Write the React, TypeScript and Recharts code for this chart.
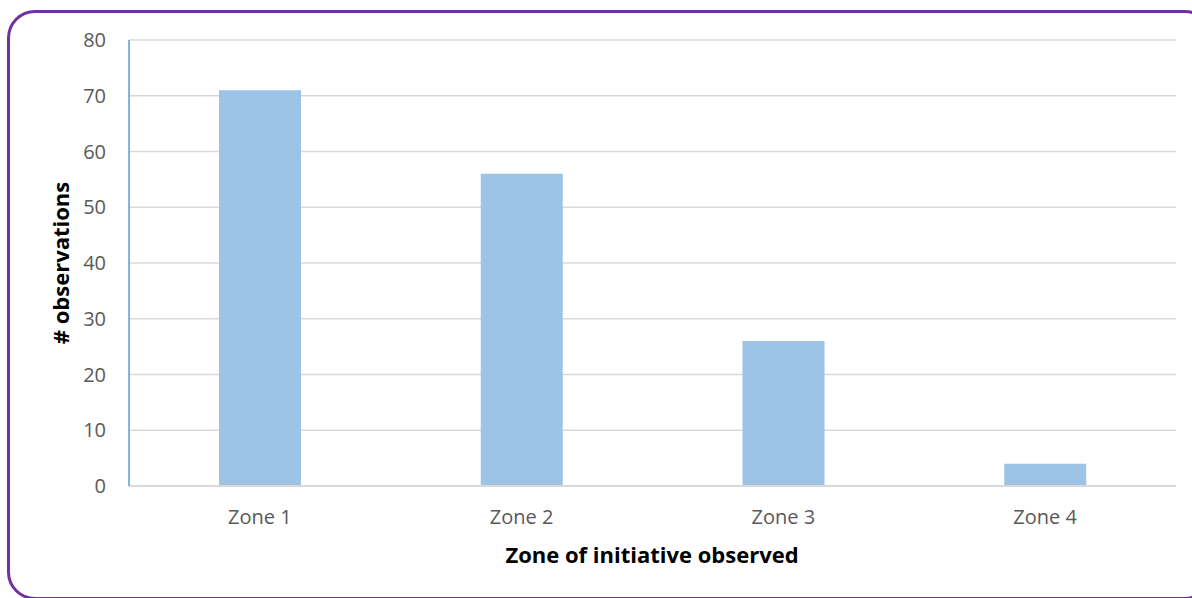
import React from 'react';
import {
  BarChart,
  Bar,
  XAxis,
  YAxis,
  CartesianGrid,
  Label,
} from 'recharts';

const zones = ['Zone 1', 'Zone 2', 'Zone 3', 'Zone 4'];
const observations = [71, 56, 26, 4];
const yTicks = [0, 10, 20, 30, 40, 50, 60, 70, 80];

const data = zones.map((zone, i) => ({ zone, count: observations[i] }));

const FONT = '"Open Sans", sans-serif';
const TICK_STYLE = { fill: '#595959', fontSize: 20, fontFamily: FONT };
const TITLE_STYLE = { fontFamily: FONT, fontWeight: 700, fontSize: 22, fill: '#000' };

const App: React.FC = () => {
  return (
    <div
      style={{
        position: 'fixed',
        left: 0,
        top: 0,
        width: 1192,
        height: 598,
        overflow: 'hidden',
        background: '#fff',
      }}
    >
      {/* rounded purple frame, right edge runs past the page */}
      <div
        style={{
          position: 'absolute',
          left: 7,
          top: 10,
          width: 1200,
          height: 584,
          border: '3px solid #7030A0',
          borderRadius: 28,
        }}
      />
      <div style={{ position: 'absolute', left: 0, top: 0 }}>
        <BarChart
          width={1192}
          height={598}
          data={data}
          margin={{ top: 40, right: 16, left: 0, bottom: 0 }}
        >
          <CartesianGrid vertical={false} stroke="#D9D9D9" strokeWidth={1.5} />
          <XAxis
            dataKey="zone"
            axisLine={{ stroke: '#D9D9D9', strokeWidth: 2 }}
            tickLine={false}
            tickSize={0}
            tickMargin={24}
            tick={TICK_STYLE}
            height={112}
          >
            <Label
              content={() => (
                <text x={652} y={563} textAnchor="middle" style={TITLE_STYLE}>
                  Zone of initiative observed
                </text>
              )}
            />
          </XAxis>
          <YAxis
            domain={[0, 80]}
            ticks={yTicks}
            interval={0}
            width={129}
            axisLine={{ stroke: '#5B9BD5', strokeWidth: 1.5 }}
            tickLine={false}
            tickSize={0}
            tickMargin={23}
            tick={TICK_STYLE}
          >
            <Label
              content={() => (
                <text
                  x={60}
                  y={263}
                  textAnchor="middle"
                  dominantBaseline="central"
                  transform="rotate(-90, 60, 263)"
                  style={TITLE_STYLE}
                >
                  # observations
                </text>
              )}
            />
          </YAxis>
          <Bar dataKey="count" fill="#9DC3E6" barSize={82} isAnimationActive={false} />
        </BarChart>
      </div>
    </div>
  );
};

export default App;
